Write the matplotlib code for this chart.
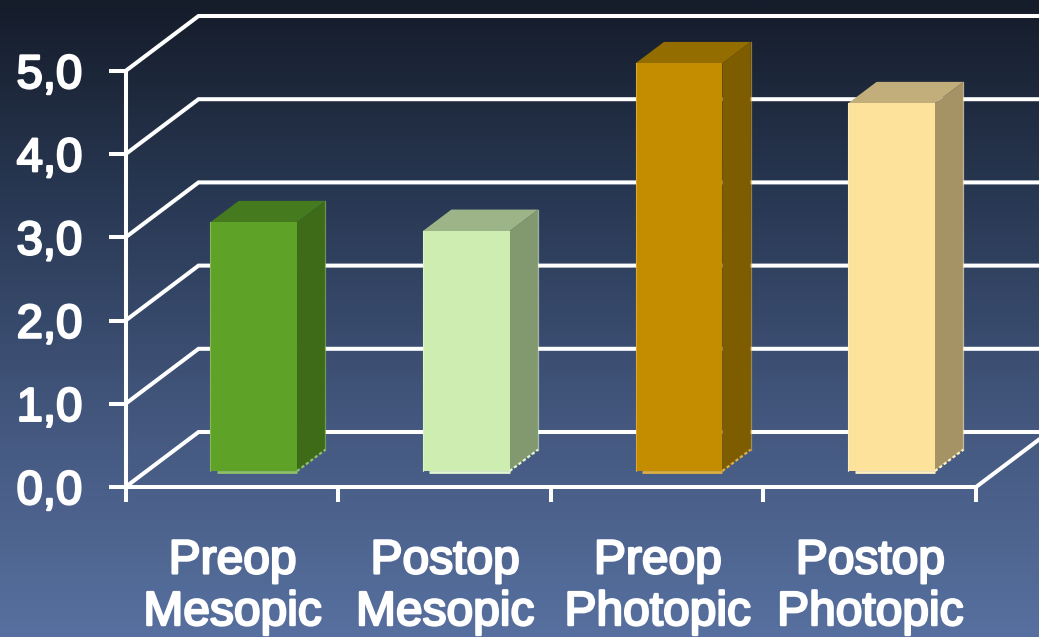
import matplotlib
matplotlib.use('Agg')
import matplotlib.pyplot as plt
import matplotlib.patheffects as pe
import numpy as np
from matplotlib.colors import LinearSegmentedColormap
from matplotlib.patches import Polygon

labels = ["Preop\nMesopic", "Postop\nMesopic", "Preop\nPhotopic", "Postop\nPhotopic"]
values = [2.99, 2.885, 4.90, 4.42]
y_ticks = [0, 1, 2, 3, 4, 5]
y_tick_labels = ["0,0", "1,0", "2,0", "3,0", "4,0", "5,0"]

front_colors = ["#5fa228", "#cdeeb0", "#c48d00", "#fde29b"]
side_colors = ["#3d6b18", "#82996f", "#7e5c00", "#a59366"]
top_colors = ["#467a1e", "#9db488", "#946d00", "#c2ae7a"]
edge_colors = ["#8fbf68", "#e4f5d2", "#dcb040", "#fff0c4"]

W, H = 1039, 637
# depth of the 3d box, in data units
DX = 73 / 212.5
DY = 55 / 83.2
BAR_W = 0.408
D0, D1 = 0.29, 0.68

plt.rcParams['font.family'] = ['Liberation Sans', 'DejaVu Sans']

fig = plt.figure(figsize=(W / 100, H / 100), dpi=100)

bg = fig.add_axes([0, 0, 1, 1], zorder=0)
cmap = LinearSegmentedColormap.from_list('bg', ["#151c2a", "#2a3a56", "#44587f", "#57709f"])
bg.imshow(np.linspace(0, 1, 256)[:, None], aspect='auto', cmap=cmap)
bg.axis('off')

ax = fig.add_axes([125.5 / W, 1 - 487 / H, 850.5 / W, 416 / H], zorder=1)
ax.set_xlim(0, 4)
ax.set_ylim(0, 5)
ax.patch.set_alpha(0)
for s in ax.spines.values():
    s.set_visible(False)

line_kw = dict(color='white', lw=2.9, clip_on=False, solid_capstyle='butt', solid_joinstyle='miter')
stroke = [pe.withStroke(linewidth=1.7, foreground='white')]

# walls and gridlines
for t in y_ticks:
    ax.plot([0, DX, 4 + DX], [t, t + DY, t + DY], zorder=1, **line_kw)
ax.plot([4, 4 + DX], [0, DY], zorder=1, **line_kw)

# bars
for i, v in enumerate(values):
    left = i + 0.503 + D0 * DX - BAR_W / 2
    right = left + BAR_W
    base = D0 * DY
    top = base + v
    sx, sy = (D1 - D0) * DX, (D1 - D0) * DY
    ax.add_patch(Polygon([(right, base), (right + sx, base + sy), (right + sx, top + sy), (right, top)],
                         closed=True, fc=side_colors[i], ec='none', clip_on=False, zorder=3))
    ax.add_patch(Polygon([(left, top), (left + sx, top + sy), (right + sx, top + sy), (right, top)],
                         closed=True, fc=top_colors[i], ec='none', clip_on=False, zorder=3))
    ax.bar(left, v, width=BAR_W, bottom=base, align='edge', color=front_colors[i], clip_on=False, zorder=4)
    # pale rims seen on the original
    ax.plot([left, left], [base, top], color=edge_colors[i], lw=0.8, alpha=0.8, clip_on=False, zorder=5)
    ax.plot([right + sx, right + sx], [base + sy, top + sy], color=edge_colors[i], lw=0.9, alpha=0.6,
            clip_on=False, zorder=5)
    ax.plot([left + 0.03, right], [base - 0.01, base - 0.01], color=edge_colors[i], lw=2, clip_on=False,
            solid_capstyle='butt', zorder=5)
    ax.plot([right, right + sx], [base, base + sy], color=edge_colors[i], lw=1.6, ls=(0, (1.5, 1)),
            clip_on=False, zorder=5)

# front axes
ax.plot([0, 0], [0, 5], zorder=6, **line_kw)
ax.plot([0, 4], [0, 0], zorder=6, **line_kw)

ax.set_yticks(y_ticks)
ax.set_yticklabels(y_tick_labels)
ax.set_xticks(range(5))
ax.set_xticklabels([])
ax.tick_params(axis='y', length=12, width=2.9, color='white', labelcolor='white', labelsize=34, pad=19)
ax.tick_params(axis='x', length=11, width=2.9, color='white', direction='out')
for lab in ax.get_yticklabels():
    lab.set_path_effects(stroke)

for i, lab in enumerate(labels):
    ax.annotate(lab, xy=(i + 0.5, 0), xytext=(0.5, -37), textcoords='offset points',
                ha='center', va='top', color='white', fontsize=34.5, linespacing=1.19,
                annotation_clip=False, path_effects=stroke)

fig.savefig('out.png', dpi=100)
